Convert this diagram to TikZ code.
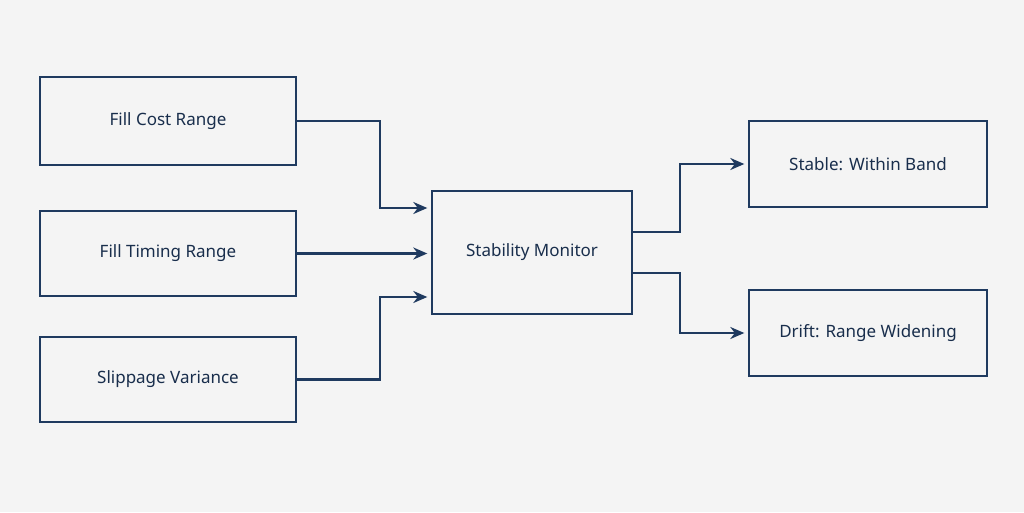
\documentclass[tikz,border=0pt]{standalone}
\usepackage{fontspec}
\setmainfont{Noto Sans}
\usetikzlibrary{arrows.meta}
\definecolor{navy}{HTML}{1F3A5F}
\definecolor{bg}{HTML}{F4F4F4}
\begin{document}
\begin{tikzpicture}[x=1pt,y=-1pt,
  box/.style={draw=navy,line width=1.4pt,fill=bg,inner sep=0pt,font=\fontsize{17}{20}\selectfont,text=navy!80!black},
  arr/.style={draw=navy,line width=2.4pt,-{Stealth[length=14pt,width=12pt]}}]
\fill[bg] (0,0) rectangle (1024,512);
\useasboundingbox (0,0) rectangle (1024,512);
\node[box,minimum width=256pt,minimum height=88pt] (a) at (168,121) {Fill Cost Range};
\node[box,minimum width=256pt,minimum height=85pt] (b) at (168,253.5) {Fill Timing Range};
\node[box,minimum width=256pt,minimum height=85pt] (c) at (168,379.5) {Slippage Variance};
\node[box,minimum width=200pt,minimum height=123pt] (m) at (532,252.5) {Stability Monitor};
\node[box,minimum width=238pt,minimum height=86pt] (s) at (868,164) {Stable: Within Band};
\node[box,minimum width=238pt,minimum height=86pt] (d) at (868,333) {Drift: Range Widening};
\coordinate (m1) at (m.west |- 0,208);
\coordinate (m3) at (m.west |- 0,297);
\coordinate (o1) at (m.east |- 0,232);
\coordinate (o2) at (m.east |- 0,273);
\draw[arr] (a.east) -- (380,121) |- ([xshift=-4pt]m1);
\draw[arr] (b.east) -- ([xshift=-4pt]m.west |- b.east);
\draw[arr] (c.east) -- (380,379.5) |- ([xshift=-4pt]m3);
\draw[arr] (o1) -- (680,232) |- ([xshift=-4pt]s.west);
\draw[arr] (o2) -- (680,273) |- ([xshift=-4pt]d.west);
\end{tikzpicture}
\end{document}
